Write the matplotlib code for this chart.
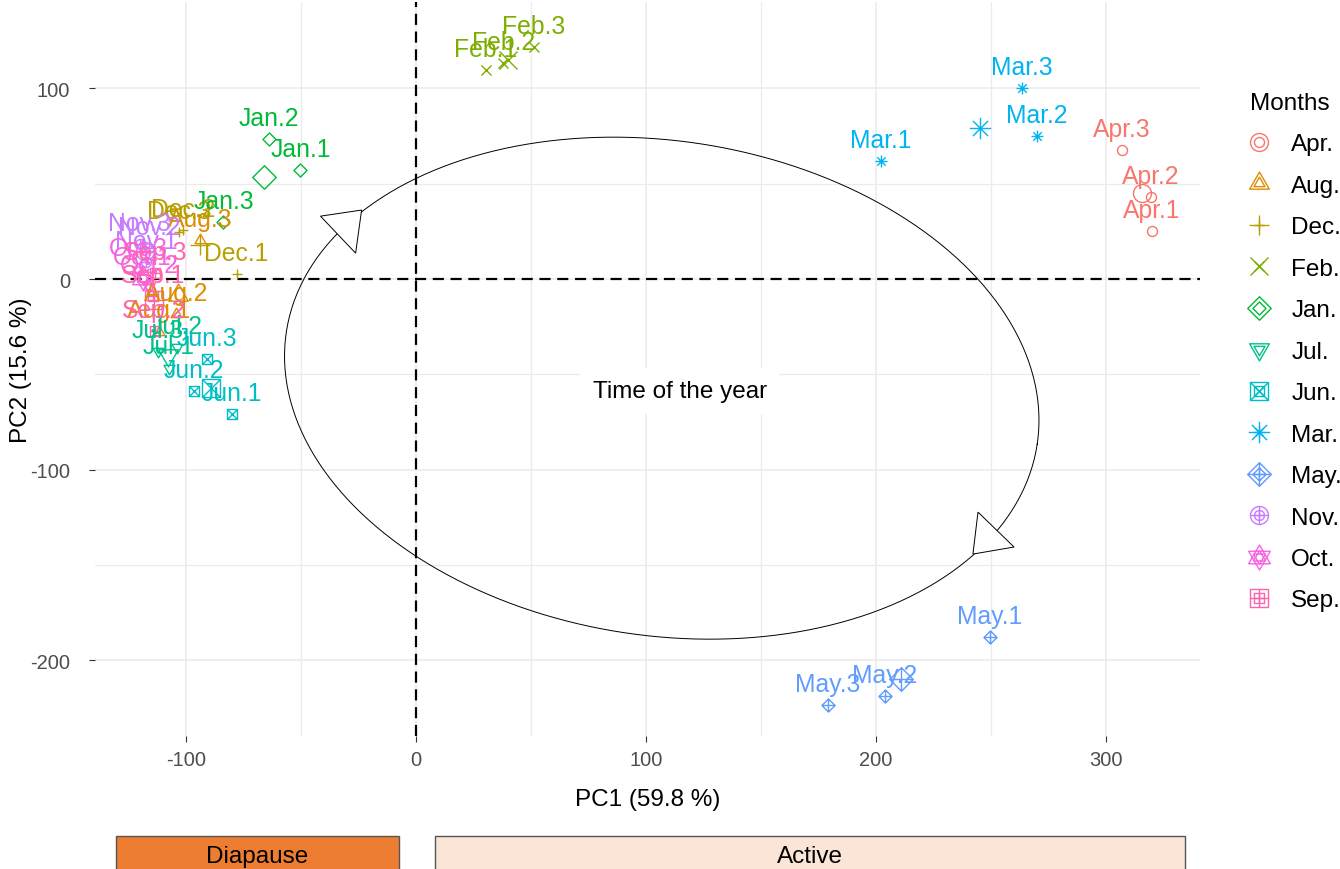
import numpy as np
import matplotlib
matplotlib.use('Agg')
import matplotlib.pyplot as plt
import matplotlib.transforms as mtransforms
from matplotlib.path import Path
from matplotlib.patches import Polygon, Rectangle
from matplotlib.lines import Line2D
from matplotlib.legend_handler import HandlerTuple

plt.rcParams['font.family'] = ['Liberation Sans', 'DejaVu Sans']
plt.rcParams['axes.unicode_minus'] = False

# months, in legend order, with the ggplot hue colours
months = ['Apr.', 'Aug.', 'Dec.', 'Feb.', 'Jan.', 'Jul.', 'Jun.', 'Mar.', 'May.', 'Nov.', 'Oct.', 'Sep.']
colors = ['#F8766D', '#DE8C00', '#B79F00', '#7CAE00', '#00BA38', '#00C08B',
          '#00BFC4', '#00B4F0', '#619CFF', '#C77CFF', '#F564E3', '#FF64B0']

# PCA scores, 3 replicates per month
pc1 = [
    [320.2, 319.8, 307.1],     # Apr.
    [-112.0, -104.3, -94.0],   # Aug.
    [-78.1, -101.2, -103.0],   # Dec.
    [30.3, 38.0, 51.1],        # Feb.
    [-50.3, -64.2, -83.8],     # Jan.
    [-107.5, -104.2, -112.5],  # Jul.
    [-80.3, -96.8, -91.1],     # Jun.
    [202.2, 270.0, 263.6],     # Mar.
    [249.6, 203.9, 179.1],     # May.
    [-117.3, -116.0, -120.3],  # Nov.
    [-119.0, -116.0, -121.0],  # Oct.
    [-114.3, -113.8, -113.4],  # Sep.
]
pc2 = [
    [25.2, 43.0, 67.6],
    [-27.5, -18.4, 20.5],
    [2.6, 25.7, 24.6],
    [109.6, 113.1, 121.7],
    [57.2, 73.4, 29.9],
    [-46.5, -35.7, -37.8],
    [-70.8, -58.7, -42.0],
    [61.9, 75.0, 100.2],
    [-187.7, -218.7, -223.4],
    [8.9, 16.3, 18.4],
    [0.5, -3.7, 5.0],
    [-8.9, -27.3, 3.1],
]

phases = ['Diapause', 'Active']
phase_from = [-130.4, 8.05]
phase_to = [-7.6, 334.6]
phase_colors = ['#ED7D31', '#FBE5D6']


# R-like point shapes as paths
def poly(pts):
    return Path(pts + [pts[0]], [Path.MOVETO] + [Path.LINETO] * (len(pts) - 1) + [Path.CLOSEPOLY])


def segs(lst):
    v, c = [], []
    for a, b in lst:
        v += [a, b]
        c += [Path.MOVETO, Path.LINETO]
    return Path(v, c)


circ = Path.unit_circle()
sq = poly([(-1, -1), (1, -1), (1, 1), (-1, 1)])
dia = poly([(0, 1), (1, 0), (0, -1), (-1, 0)])
tup = poly([(0, 1), (-0.866, -0.5), (0.866, -0.5)])
tdn = poly([(0, -1), (-0.866, 0.5), (0.866, 0.5)])
plus = segs([((-1, 0), (1, 0)), ((0, -1), (0, 1))])
cross = segs([((-1, -1), (1, 1)), ((-1, 1), (1, -1))])
cross_s = segs([((-0.707, -0.707), (0.707, 0.707)), ((-0.707, 0.707), (0.707, -0.707))])
cmp = Path.make_compound_path

shapes = [circ, tup, plus, cross, dia, tdn, cmp(sq, cross), cmp(plus, cross_s),
          cmp(dia, plus), cmp(circ, plus), cmp(tup, tdn), cmp(sq, plus)]
small = [7.2, 9.1, 7.9, 7.2, 9.4, 9.1, 7.2, 8.6, 9.4, 7.2, 10.0, 7.2]
big_k = 1.8

fig = plt.figure(figsize=(13.4, 8.7), dpi=100)
ax = fig.add_axes([95 / 1340, 1 - 737 / 870, 1105 / 1340, 734 / 870])
ax.set_xlim(-139.7, 341.1)
ax.set_ylim(-239.6, 145.3)

ax.set_xticks([-100, 0, 100, 200, 300])
ax.set_xticks([-50, 50, 150, 250], minor=True)
ax.set_yticks([-200, -100, 0, 100])
ax.set_yticks([-150, -50, 50], minor=True)
ax.grid(True, which='major', color='#EBEBEB', lw=1.1)
ax.grid(True, which='minor', color='#EBEBEB', lw=0.9)
ax.set_axisbelow(True)
for s in ax.spines.values():
    s.set_visible(False)
ax.tick_params(which='major', length=4, width=0.8, color='#333333', labelcolor='#4D4D4D',
               labelsize=14.5)
ax.tick_params(axis='x', which='major', pad=6)
ax.tick_params(axis='y', which='major', pad=14)
ax.tick_params(which='minor', length=0)

ax.axhline(0, color='black', lw=1.6, dashes=(5, 3), zorder=2)
ax.axvline(0, color='black', lw=1.6, dashes=(5, 3), zorder=2)

# the "time of the year" loop
t = np.linspace(0, 2 * np.pi, 400)
th = np.deg2rad(8.48)
ex = 106.9 + (379.4 * np.cos(t) * np.cos(th) - 247.4 * np.sin(t) * np.sin(th)) / 2.297
ey = -57.2 - (379.4 * np.cos(t) * np.sin(th) + 247.4 * np.sin(t) * np.cos(th)) / 1.907
ax.plot(ex, ey, color='black', lw=0.7, zorder=3)
ax.add_patch(Polygon([(-41.6, 33.0), (-23.7, 36.2), (-26.3, 13.6)], closed=True,
                     fc='white', ec='black', lw=0.7, zorder=4))
ax.add_patch(Polygon([(244.5, -122.2), (260.2, -140.5), (242.3, -144.2)], closed=True,
                     fc='white', ec='black', lw=0.7, zorder=4))
ax.text(114.7, -58.7, 'Time of the year', fontsize=17.5, ha='center', va='center', zorder=5,
        bbox=dict(boxstyle='square,pad=0.5', fc='white', ec='none'))

handles = []
for i, m in enumerate(months):
    xs = np.array(pc1[i])
    ys = np.array(pc2[i])
    ax.plot(xs, ys, ls='none', marker=shapes[i], ms=small[i], mfc='none',
            mec=colors[i], mew=1.0, zorder=6)
    ax.plot(xs.mean(), ys.mean(), ls='none', marker=shapes[i], ms=small[i] * big_k,
            mfc='none', mec=colors[i], mew=1.0, zorder=6)
    for j in range(len(xs)):
        ax.annotate(m + str(j + 1), (xs[j], ys[j]), xytext=(0, 10.3), textcoords='offset points',
                    ha='center', va='baseline', color=colors[i], fontsize=17.8, zorder=7)
    h1 = Line2D([], [], ls='none', marker=shapes[i], ms=small[i], mfc='none', mec=colors[i], mew=1.0)
    h2 = Line2D([], [], ls='none', marker=shapes[i], ms=small[i] * big_k, mfc='none',
                mec=colors[i], mew=1.0)
    handles.append((h1, h2))

ax.set_xlabel('PC1 (59.8 %)', fontsize=17.5, labelpad=14)
ax.set_ylabel('PC2 (15.6 %)', fontsize=17.5, labelpad=-1.5)

leg = fig.legend(handles, months, handler_map={tuple: HandlerTuple(ndivide=1, pad=0)},
                 loc='upper left', bbox_to_anchor=(1250 / 1340, 1 - 93 / 870), frameon=False,
                 title='Months', fontsize=17.5, title_fontsize=17.5, alignment='left',
                 handlelength=0.7, handletextpad=1.0, labelspacing=0.8, borderpad=0,
                 borderaxespad=0)

# phase strips under the x axis
tr = mtransforms.blended_transform_factory(ax.transData, fig.transFigure)
for k, p in enumerate(phases):
    ax.add_patch(Rectangle((phase_from[k], -0.02), phase_to[k] - phase_from[k], 0.02 + 33 / 870,
                           transform=tr, fc=phase_colors[k], ec='#555555', lw=1.0, clip_on=False))
    ax.text((phase_from[k] + phase_to[k]) / 2, 13 / 870, p, transform=tr, ha='center',
            va='center', fontsize=17.5, color='black', clip_on=False)

fig.savefig('out.png', dpi=100)
